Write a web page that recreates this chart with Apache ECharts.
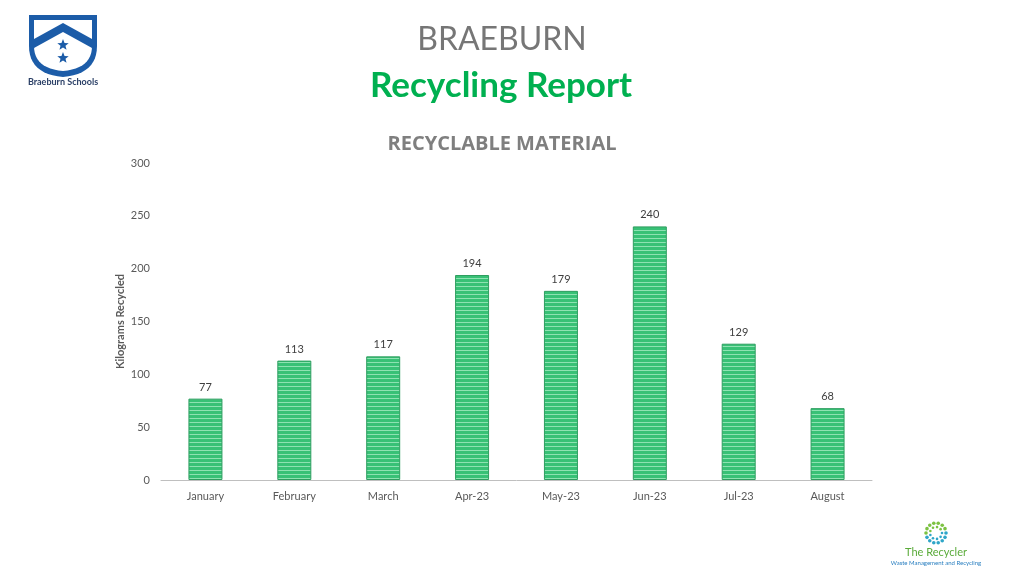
<!DOCTYPE html>
<html><head><meta charset="utf-8">
<script src="https://cdn.jsdelivr.net/npm/echarts@6/dist/echarts.min.js"></script>
<style>html,body{margin:0;padding:0;background:#fff}#c{width:1024px;height:576px}</style>
</head><body><div id="c"></div>
<script>
const categories = ['January','February','March','Apr-23','May-23','Jun-23','Jul-23','August'];
const kilograms = [77,113,117,194,179,240,129,68];
const yTicks = [0,50,100,150,200,250,300];

const FONT = 'Lato, "Open Sans", sans-serif';

// striped bar fill pattern
const pc = document.createElement('canvas');
pc.width = 4; pc.height = 4;
const pctx = pc.getContext('2d');
pctx.fillStyle = '#38c176'; pctx.fillRect(0,0,4,4);
pctx.fillStyle = '#8ee2b2'; pctx.fillRect(0,2,4,1);

function starPoints(cx, cy, R, r) {
  const pts = [];
  for (let i = 0; i < 10; i++) {
    const a = -Math.PI/2 + i*Math.PI/5;
    const rad = i % 2 === 0 ? R : r;
    pts.push([cx + rad*Math.cos(a), cy + rad*Math.sin(a)]);
  }
  return pts;
}
function shieldPoints(x0, x1, yTop, ySide, yBot) {
  const cx = (x0 + x1) / 2;
  const pts = [[x0, yTop], [x1, yTop], [x1, ySide]];
  const N = 12;
  const cyc = ySide + (yBot - ySide) * 0.9;
  for (let i = 1; i <= N; i++) {
    const t = i / N;
    pts.push([(1-t)*(1-t)*x1 + 2*(1-t)*t*x1 + t*t*cx, (1-t)*(1-t)*ySide + 2*(1-t)*t*cyc + t*t*yBot]);
  }
  for (let i = 1; i <= N; i++) {
    const t = i / N;
    pts.push([(1-t)*(1-t)*cx + 2*(1-t)*t*x0 + t*t*x0, (1-t)*(1-t)*yBot + 2*(1-t)*t*cyc + t*t*ySide]);
  }
  return pts;
}

const graphics = [
  {type:'polygon', shape:{points:shieldPoints(29,97,15,46,77)}, style:{fill:'#1c5ca8'}},
  {type:'polygon', shape:{points:shieldPoints(34,92,20,46,71)}, style:{fill:'#ffffff'}},
  {type:'polygon', shape:{points:[[34,39],[63,23],[92,39],[92,48],[63,32],[34,48]]}, style:{fill:'#1c5ca8'}},
  {type:'polygon', shape:{points:starPoints(63,45,6,2.6)}, style:{fill:'#1c5ca8'}},
  {type:'polygon', shape:{points:starPoints(63,58,6,2.6)}, style:{fill:'#1c5ca8'}},
  {type:'text', style:{x:63, y:82, text:'Braeburn Schools', font:'bold 9px '+FONT, fill:'#2a3f66', textAlign:'center', textVerticalAlign:'middle'}},
  {type:'text', style:{x:502, y:40, text:'BRAEBURN', font:'32px '+FONT, fill:'#767676', textAlign:'center', textVerticalAlign:'middle'}},
  {type:'text', style:{x:501, y:86, text:'Recycling Report', font:'bold 35px '+FONT, fill:'#00b050', textAlign:'center', textVerticalAlign:'middle'}},
  {type:'text', style:{x:502, y:144, text:'RECYCLABLE MATERIAL', font:'bold 20px "Open Sans", sans-serif', fill:'#7f7f7f', textAlign:'center', textVerticalAlign:'middle'}},
  {type:'text', style:{x:936, y:552, text:'The Recycler', font:'11px '+FONT, fill:'#5aab3a', textAlign:'center', textVerticalAlign:'middle'}},
  {type:'text', style:{x:936, y:563, text:'Waste Management and Recycling', font:'6px '+FONT, fill:'#2a7fc0', textAlign:'center', textVerticalAlign:'middle'}}
];
for (let ring = 0; ring < 2; ring++) {
  const n = ring === 0 ? 14 : 9;
  const rr = ring === 0 ? 10 : 6;
  for (let i = 0; i < n; i++) {
    const a = i * 2*Math.PI/n;
    const col = i/n < 0.5 ? '#2fa6c8' : '#7cc242';
    graphics.push({type:'circle', shape:{cx:936 + rr*Math.cos(a), cy:533 + rr*Math.sin(a), r: ring===0?1.8:1.3}, style:{fill:col}});
  }
}

const chart = echarts.init(document.getElementById('c'), null, {renderer:'canvas'});
chart.setOption({
  backgroundColor:'#ffffff',
  animation:false,
  graphic: graphics,
  grid:{left:161, right:152, top:163, bottom:96, containLabel:false},
  xAxis:{
    type:'category', data:categories,
    axisLine:{show:true, lineStyle:{color:'#bfbfbf', width:1}},
    axisTick:{show:false},
    axisLabel:{color:'#595959', fontSize:11, fontFamily:FONT, margin:11}
  },
  yAxis:{
    type:'value', min:0, max:300, interval:50,
    name:'Kilograms Recycled', nameLocation:'middle', nameGap:35, nameRotate:90,
    nameMoveOverlap:false,
    nameTextStyle:{color:'#595959', fontSize:11, fontWeight:'bold', fontFamily:FONT},
    axisLine:{show:false}, axisTick:{show:false}, splitLine:{show:false},
    axisLabel:{color:'#595959', fontSize:11, fontFamily:FONT, margin:11,
      formatter: v => yTicks.includes(v) ? String(v) : ''}
  },
  series:[{
    type:'bar', data:kilograms, barWidth:34,
    itemStyle:{color:{image:pc, repeat:'repeat'}, borderColor:'#2f9e60', borderWidth:1},
    label:{show:true, position:'top', distance:6, color:'#404040', fontSize:11, fontFamily:FONT}
  }]
});
</script></body></html>
